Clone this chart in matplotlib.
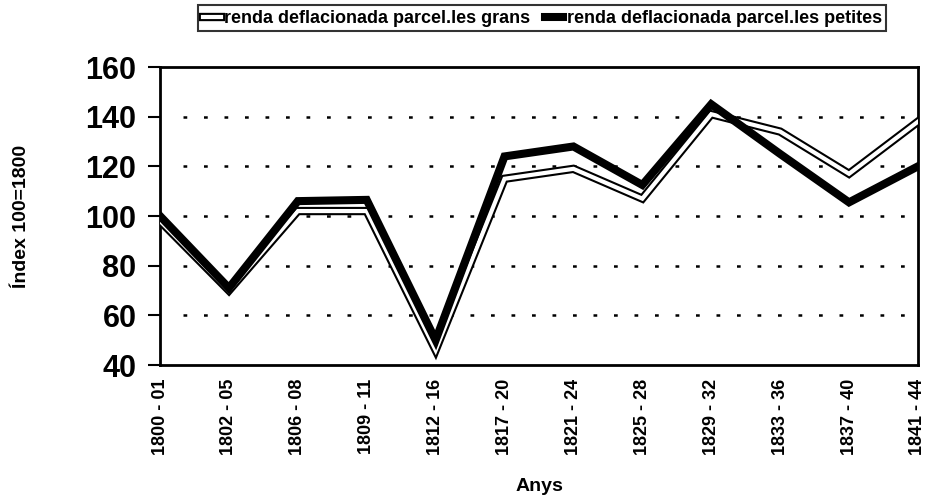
import matplotlib.pyplot as plt
import matplotlib.patheffects as pe

plt.rcParams['font.family'] = ['Liberation Sans', 'DejaVu Sans']
plt.rcParams['font.weight'] = 'bold'

periods = ["1800 - 01", "1802 - 05", "1806 - 08", "1809 - 11", "1812 - 16", "1817 - 20",
           "1821 - 24", "1825 - 28", "1829 - 32", "1833 - 36", "1837 - 40", "1841 - 44"]
grans = [98, 70, 102, 102, 46, 115, 119, 107, 141, 134, 117, 138]
petites = [100, 71, 106, 106.5, 50, 124, 128, 112.5, 145, 125, 105.5, 120]

fig = plt.figure(figsize=(9.38, 4.99), dpi=100)
ax = fig.add_axes([0.1706, 0.2685, 0.808, 0.5972])

x = range(len(periods))
# grans: hollow line (black outline, white inside)
ax.plot(x, grans, color="white", lw=3.0, solid_joinstyle="miter", zorder=3,
        path_effects=[pe.Stroke(linewidth=6, foreground="black"), pe.Normal()],
        label="renda deflacionada parcel.les grans")
ax.plot(x, petites, color="black", lw=5.8, solid_joinstyle="miter", zorder=4,
        label="renda deflacionada parcel.les petites")

ax.set_xlim(0, len(periods) - 1)
ax.set_ylim(40, 160)
ax.set_yticks([40, 60, 80, 100, 120, 140, 160])
ax.set_xticks(list(x))
ax.set_xticklabels(periods, rotation=90, fontsize=13, fontweight="bold")
ax.tick_params(axis="x", length=0, pad=10)
ax.tick_params(axis="y", length=9, width=1.5, labelsize=22, pad=8)
for t in ax.get_yticklabels():
    t.set_fontweight("bold")

for spine in ax.spines.values():
    spine.set_linewidth(2)

for v in [60, 80, 100, 120, 140]:
    ax.axhline(v, xmin=0.03, xmax=0.985, color="black", lw=1.8,
               linestyle=(0, (1.5, 6.7)), zorder=1)

ax.set_xlabel("Anys", fontsize=14, fontweight="bold", labelpad=16)
ax.set_ylabel("Índex 100=1800", fontsize=14, fontweight="bold")
ax.yaxis.set_label_coords(-0.172, 0.5)

leg = fig.legend(loc="upper center", bbox_to_anchor=(0.578, 1.0), ncol=2, fontsize=13,
                 handlelength=1.0, handletextpad=0.2, columnspacing=0.8,
                 frameon=True, fancybox=False, borderpad=0.25, borderaxespad=0.3)
leg.get_frame().set_edgecolor("black")
leg.get_frame().set_linewidth(1.5)
for text in leg.get_texts():
    text.set_fontweight("bold")

fig.savefig("out.png", dpi=100)
